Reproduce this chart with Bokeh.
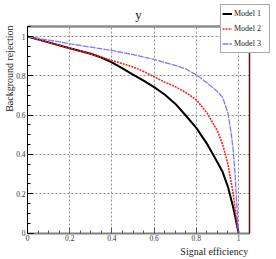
import math
from bokeh.plotting import figure
from bokeh.models import (Range1d, FixedTicker, Label, Legend, LegendItem, LinearAxis)
from bokeh.embed import file_html
from bokeh.resources import INLINE

# ---- data ----
eff1 = [0.0, 0.1, 0.2, 0.3, 0.35, 0.4, 0.45, 0.5, 0.55, 0.6, 0.65, 0.7, 0.75,
        0.8, 0.85, 0.9, 0.925, 0.95, 0.975, 0.99, 1.0]
rej1 = [1.0, 0.97, 0.94, 0.912, 0.893, 0.868, 0.838, 0.806, 0.775, 0.742, 0.705,
        0.658, 0.598, 0.535, 0.455, 0.36, 0.31, 0.235, 0.13, 0.055, 0.0]

eff2 = [0.0, 0.1, 0.2, 0.3, 0.35, 0.4, 0.45, 0.5, 0.55, 0.6, 0.65, 0.7, 0.75,
        0.8, 0.85, 0.9, 0.925, 0.95, 0.975, 0.99, 1.0]
rej2 = [1.0, 0.97, 0.94, 0.912, 0.895, 0.878, 0.862, 0.845, 0.822, 0.795, 0.768,
        0.745, 0.715, 0.678, 0.612, 0.52, 0.45, 0.35, 0.2, 0.07, 0.0]

eff3 = [0.0, 0.1, 0.2, 0.3, 0.4, 0.5, 0.6, 0.65, 0.7, 0.75, 0.8, 0.85, 0.9,
        0.925, 0.95, 0.965, 0.975, 0.985, 0.993, 1.0]
rej3 = [1.0, 0.982, 0.963, 0.946, 0.929, 0.908, 0.883, 0.868, 0.853, 0.835, 0.805,
        0.765, 0.72, 0.69, 0.61, 0.51, 0.42, 0.28, 0.12, 0.0]

series_names = ["Model 1", "Model 2", "Model 3"]

x_ticks = [0, 0.2, 0.4, 0.6, 0.8, 1.0]
x_tick_labels = ["0", "0.2", "0.4", "0.6", "0.8", "1"]
y_ticks = [0, 0.2, 0.4, 0.6, 0.8, 1.0]
y_tick_labels = ["0", "0.2", "0.4", "0.6", "0.8", "1"]
minor_ticks = [round(0.05 * i, 2) for i in range(0, 22)]
axis_max = 1.05

title_text = "y"
x_title = "Signal efficiency"
y_title = "Background rejection"

FONT = "Liberation Serif"
W, H = 276, 259
X0_PX, X_SCALE = 27.0, 211.0      # page x of data 0, pixels per unit
Y0_PX, Y_SCALE = 232.5, 196.5     # page y of data 0, pixels per unit

p = figure(width=W, height=H, output_backend="svg", toolbar_location=None,
           title_location=None,
           x_range=Range1d(-X0_PX / X_SCALE, (W - X0_PX) / X_SCALE),
           y_range=Range1d(-(H - Y0_PX) / Y_SCALE, Y0_PX / Y_SCALE),
           min_border=0)
p.outline_line_color = None
p.background_fill_color = "white"
p.border_fill_color = "white"

# axes drawn inside the frame at data 0
for ax, ticks, labels in ((p.xaxis[0], x_ticks, x_tick_labels),
                          (p.yaxis[0], y_ticks, y_tick_labels)):
    ax.fixed_location = 0
    ax.bounds = (0, axis_max)
    ax.ticker = FixedTicker(ticks=ticks, minor_ticks=minor_ticks)
    ax.major_label_overrides = {t: l for t, l in zip(ticks, labels)}
    ax.major_label_text_font = FONT
    ax.major_label_text_font_size = "7.5px"
    ax.major_label_text_color = "#333333"
    ax.major_tick_out = 0
    ax.major_tick_in = 6
    ax.minor_tick_out = 0
    ax.minor_tick_in = 3
    ax.major_label_standoff = 2

p.xaxis.axis_line_color = "#808080"
p.xaxis.axis_line_width = 2
p.xaxis.major_tick_line_color = "#555555"
p.xaxis.minor_tick_line_color = "#555555"
p.yaxis.axis_line_color = "black"
p.yaxis.axis_line_width = 1
p.yaxis.major_tick_line_color = "black"
p.yaxis.minor_tick_line_color = "black"

# frame top (grey) and right (dark red) edges as tick-less axes
top = LinearAxis(fixed_location=axis_max, bounds=(0, axis_max),
                 ticker=FixedTicker(ticks=[]), axis_line_color="#8c8c8c",
                 axis_line_width=2.5, major_tick_in=0, major_tick_out=0,
                 minor_tick_in=0, minor_tick_out=0)
right = LinearAxis(fixed_location=axis_max, bounds=(0, axis_max),
                   ticker=FixedTicker(ticks=[]), axis_line_color="#5a1414",
                   axis_line_width=1.5, major_tick_in=0, major_tick_out=0,
                   minor_tick_in=0, minor_tick_out=0)
p.add_layout(top, "above")
p.add_layout(right, "right")

# grid
for g, ticks in ((p.xgrid[0], x_ticks), (p.ygrid[0], y_ticks)):
    g.ticker = FixedTicker(ticks=ticks)
    g.grid_line_color = "#909090"
    g.grid_line_dash = "2 2"
    g.grid_line_width = 1
    g.bounds = (0, axis_max)
    if "cross_bounds" in g.properties():
        g.cross_bounds = (0, axis_max)

# curves
r1 = p.line(eff1, rej1, line_color="black", line_width=2)
r2 = p.line(eff2, rej2, line_color="#ff2020", line_width=1.6, line_dash="2 1")
r3 = p.line(eff3, rej3, line_color="#7b7bff", line_width=1.3, line_dash="6 1")

legend = Legend(items=[LegendItem(label=series_names[0], renderers=[r1]),
                       LegendItem(label=series_names[1], renderers=[r2]),
                       LegendItem(label=series_names[2], renderers=[r3])],
                location=(220, 206))
legend.label_text_font = FONT
legend.label_text_font_size = "8px"
legend.label_text_color = "#222222"
legend.glyph_width = 10
legend.glyph_height = 15
legend.label_height = 15
legend.label_width = 34
legend.label_standoff = 2
legend.padding = 1
legend.spacing = 0
legend.margin = 0
legend.border_line_color = "#555555"
legend.border_line_width = 1
legend.background_fill_color = "white"
legend.background_fill_alpha = 1.0
p.add_layout(legend)

# titles
p.add_layout(Label(x=0.526, y=1.112, text=title_text, text_align="center",
                   text_baseline="alphabetic", text_font=FONT,
                   text_font_size="13px", text_color="#222222"))
p.add_layout(Label(x=1.046, y=-0.094, text=x_title, text_align="right",
                   text_baseline="alphabetic", text_font=FONT,
                   text_font_size="10px", text_color="#222222"))
p.add_layout(Label(x=-0.057, y=1.056, text=y_title, text_align="right",
                   text_baseline="bottom", angle=math.pi / 2,
                   text_font=FONT, text_font_size="10px",
                   text_color="#222222"))

open("out.html", "w").write(file_html(p, INLINE))
